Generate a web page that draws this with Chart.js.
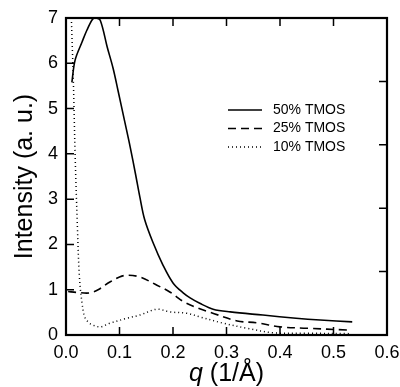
<!DOCTYPE html>
<html>
<head>
<meta charset="utf-8">
<script src="https://cdn.jsdelivr.net/npm/chart.js@4"></script>
<style>
  html, body { margin: 0; padding: 0; background: #fff; }
  #wrap { width: 400px; height: 387px; }
</style>
</head>
<body>
<div id="wrap"><canvas id="myChart" width="400" height="387"></canvas></div>
<script>
// Werte
var q50 = [0.011, 0.017, 0.030, 0.039, 0.050, 0.056, 0.064, 0.077, 0.088, 0.097, 0.110, 0.120, 0.130, 0.138, 0.147, 0.163, 0.181, 0.200, 0.219, 0.232, 0.250, 0.275, 0.307, 0.368, 0.430, 0.475, 0.535]
var i50 = [5.58, 6.07, 6.47, 6.73, 6.98, 7.0, 6.95, 6.36, 5.89, 5.41, 4.70, 4.15, 3.55, 3.05, 2.55, 2.03, 1.55, 1.15, 0.93, 0.82, 0.70, 0.57, 0.51, 0.44, 0.37, 0.33, 0.29]

var q25 = [0.004, 0.020, 0.045, 0.060, 0.082, 0.100, 0.114, 0.138, 0.170, 0.194, 0.222, 0.250, 0.270, 0.320, 0.357, 0.400, 0.450, 0.525]
var i25 = [0.96, 0.94, 0.93, 1.00, 1.17, 1.28, 1.32, 1.28, 1.10, 0.95, 0.72, 0.58, 0.50, 0.31, 0.27, 0.18, 0.15, 0.11]

var q10 = [0.010, 0.014, 0.017, 0.021, 0.025, 0.030, 0.035, 0.042, 0.050, 0.064, 0.082, 0.114, 0.138, 0.170, 0.194, 0.226, 0.250, 0.294, 0.338, 0.387, 0.450, 0.530]
var i10 = [7.0, 5.5, 4.0, 2.5, 1.3, 0.70, 0.40, 0.28, 0.22, 0.18, 0.26, 0.37, 0.44, 0.57, 0.51, 0.48, 0.40, 0.26, 0.15, 0.05, 0.04, 0.03]

var seriesNames = ["50% TMOS", "25% TMOS", "10% TMOS"]
var xTitleVar = "q"
var xTitleRest = " (1/Å)"
var yTitle = "Intensity (a. u.)"

var FONT = "'Liberation Sans', Arial, Helvetica, sans-serif"

function toPoints(xs, ys) {
    return xs.map(function (x, i) { return { x: x, y: ys[i] } })
}

// feste Achsenbreiten, ohne automatisches Padding
function fixSize(prop, size) {
    return function (s) {
        s[prop] = size
        s.paddingLeft = 0; s.paddingRight = 0; s.paddingTop = 0; s.paddingBottom = 0
    }
}

// Rahmen, Ticks nach innen, Legende und x-Titel
var framePlugin = {
    id: "frame",
    afterDraw: function (chart) {
        var ctx = chart.ctx
        var a = chart.chartArea
        var sx = chart.scales.x, sy = chart.scales.y, sy2 = chart.scales.y2
        var tl = 8
        ctx.save()
        ctx.strokeStyle = "#000"
        ctx.lineWidth = 1.5
        ctx.beginPath()
        sx.ticks.forEach(function (t) {
            var px = sx.getPixelForValue(t.value)
            ctx.moveTo(px, a.bottom); ctx.lineTo(px, a.bottom - tl)
            ctx.moveTo(px, a.top); ctx.lineTo(px, a.top + tl)
        })
        sy.ticks.forEach(function (t) {
            var py = sy.getPixelForValue(t.value)
            ctx.moveTo(a.left, py); ctx.lineTo(a.left + tl, py)
        })
        sy2.ticks.forEach(function (t) {
            var py = sy2.getPixelForValue(t.value)
            ctx.moveTo(a.right, py); ctx.lineTo(a.right - tl, py)
        })
        ctx.stroke()
        ctx.lineWidth = 2.2
        ctx.strokeRect(a.left, a.top, a.right - a.left, a.bottom - a.top)

        // Legende
        ctx.font = "14px " + FONT
        ctx.fillStyle = "#000"
        ctx.textBaseline = "middle"
        chart.data.datasets.forEach(function (ds, i) {
            var y = 110 + i * 18.5
            ctx.beginPath()
            ctx.lineWidth = ds.borderWidth
            ctx.setLineDash(ds.borderDash || [])
            ctx.moveTo(228, y); ctx.lineTo(262, y)
            ctx.stroke()
            ctx.setLineDash([])
            ctx.fillText(ds.label, 273, y)
        })

        // x-Titel mit kursivem q
        var big = "25px " + FONT
        ctx.font = "italic " + big
        var w1 = ctx.measureText(xTitleVar).width
        ctx.font = big
        var w2 = ctx.measureText(xTitleRest).width
        var x0 = (a.left + a.right) / 2 - (w1 + w2) / 2
        ctx.textBaseline = "alphabetic"
        ctx.font = "italic " + big
        ctx.fillText(xTitleVar, x0, 381)
        ctx.font = big
        ctx.fillText(xTitleRest, x0 + w1, 381)
        ctx.restore()
    }
}

var ctx = document.getElementById("myChart").getContext("2d")

var data = {
    datasets: [
        { label: seriesNames[0], data: toPoints(q50, i50), borderColor: "#000", borderWidth: 1.6, borderDash: [] },
        { label: seriesNames[1], data: toPoints(q25, i25), borderColor: "#000", borderWidth: 1.6, borderDash: [8, 5] },
        { label: seriesNames[2], data: toPoints(q10, i10), borderColor: "#000", borderWidth: 1.5, borderDash: [1, 3] }
    ]
}

var config = {
    type: "line",
    data: data,
    plugins: [framePlugin],
    options: {
        responsive: false,
        animation: false,
        layout: { autoPadding: false, padding: { top: 18, left: 0, right: 0, bottom: 0 } },
        elements: {
            point: { radius: 0 },
            line: { tension: 0.35, fill: false }
        },
        plugins: {
            legend: { display: false },
            tooltip: { enabled: false }
        },
        scales: {
            x: {
                type: "linear",
                min: 0, max: 0.6,
                grid: { display: false, drawTicks: false },
                border: { display: false },
                ticks: {
                    stepSize: 0.1,
                    color: "#000",
                    padding: 7,
                    font: { family: FONT, size: 18 },
                    callback: function (v) { return v.toFixed(1) }
                },
                afterFit: fixSize("height", 52)
            },
            y: {
                min: 0, max: 7,
                grid: { display: false, drawTicks: false },
                border: { display: false },
                ticks: {
                    stepSize: 1,
                    color: "#000",
                    padding: 8,
                    font: { family: FONT, size: 18 }
                },
                title: {
                    display: true,
                    text: yTitle,
                    color: "#000",
                    font: { family: FONT, size: 25 },
                    padding: { top: 10, bottom: 0 }
                },
                afterFit: fixSize("width", 66)
            },
            y2: {
                position: "right",
                min: 0, max: 5,
                grid: { display: false, drawTicks: false },
                border: { display: false },
                ticks: { stepSize: 1, display: false },
                afterFit: fixSize("width", 13)
            }
        }
    }
}

var myChart = new Chart(ctx, config)
</script>
</body>
</html>
